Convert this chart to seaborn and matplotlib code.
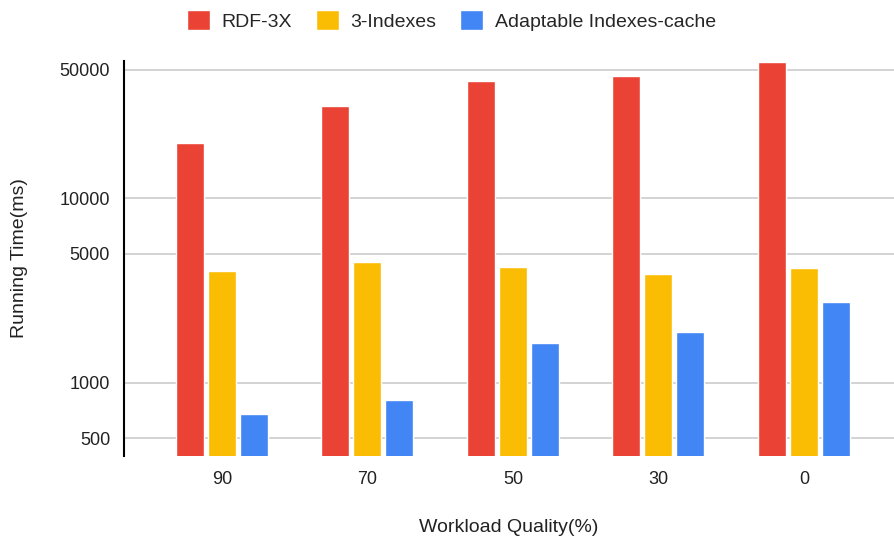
import numpy as np
import pandas as pd
import seaborn as sns
import matplotlib.pyplot as plt
import matplotlib as mpl

mpl.use('Agg')

# data
qualities = ['90', '70', '50', '30', '0']
methods = ['RDF-3X', '3-Indexes', 'Adaptable Indexes-cache']
rdf3x = [20000, 31700, 43500, 46200, 54800]
three_indexes = [4040, 4530, 4260, 3870, 4170]
adaptable = [674, 806, 1650, 1890, 2750]
colors = ['#EA4335', '#FBBC04', '#4285F4']

df = pd.DataFrame({
    'quality': qualities * 3,
    'method': [m for m in methods for _ in qualities],
    'time': rdf3x + three_indexes + adaptable,
})

sns.set_style('white')
plt.rcParams['font.family'] = ['Liberation Sans', 'DejaVu Sans']

fig = plt.figure(figsize=(8.94, 5.41), dpi=100)
ax = fig.add_axes([0.1387, 0.1571, 0.8613, 0.7301])

sns.barplot(data=df, x='quality', y='time', hue='method', order=qualities,
            hue_order=methods, palette=colors, width=0.66, gap=0.125,
            saturation=1, ax=ax, legend=True)

ax.set_yscale('log')
ax.set_ylim(400, 55600)
ax.set_xlim(-0.674, 4.62)
ticks = [500, 1000, 5000, 10000, 50000]
ax.set_yticks(ticks)
ax.set_yticklabels([str(t) for t in ticks])
ax.yaxis.set_minor_locator(mpl.ticker.NullLocator())
ax.grid(axis='y', color='#cccccc', linewidth=1.2)
ax.set_axisbelow(True)

for s in ['top', 'right', 'bottom']:
    ax.spines[s].set_visible(False)
ax.spines['left'].set_color('black')
ax.spines['left'].set_linewidth(1.5)

ax.tick_params(axis='both', length=0, labelsize=13, labelcolor='#222222')
ax.tick_params(axis='x', pad=11)
ax.tick_params(axis='y', pad=10)
ax.set_xlabel('Workload Quality(%)', fontsize=14, color='#222222', labelpad=22)
ax.set_ylabel('Running Time(ms)', fontsize=14, color='#222222', labelpad=23)

handles, labels = ax.get_legend_handles_labels()
ax.get_legend().remove()
fig.legend(handles, labels, loc='center', bbox_to_anchor=(0.505, 0.962),
           ncol=3, frameon=False, fontsize=14, handlelength=1.2,
           handleheight=1.2, columnspacing=1.2, handletextpad=0.6)

plt.savefig('out.png', dpi=100)
